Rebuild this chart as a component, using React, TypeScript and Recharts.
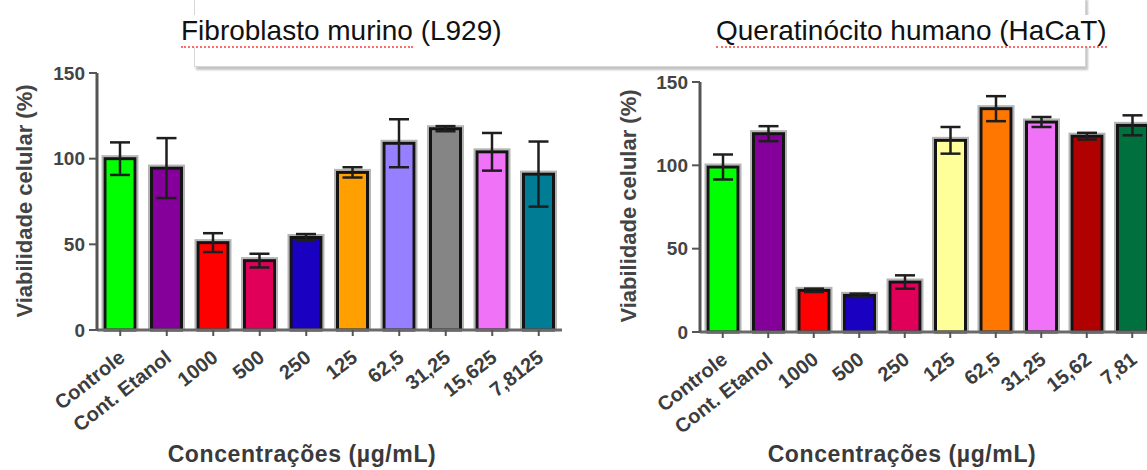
import { BarChart, Bar, XAxis, YAxis, ErrorBar } from 'recharts'

// L929 (fibroblasto murino)
const catsL929 = ['Controle', 'Cont. Etanol', '1000', '500', '250', '125', '62,5', '31,25', '15,625', '7,8125']
const meanL929 = [100, 94.5, 51, 40.5, 54, 92, 109, 117.5, 104, 91]
const errL929 = [9.5, 17.5, 5.5, 4, 2, 3, 14, 1.5, 11, 19]
const colorsL929 = ['#00ff00', '#85009a', '#ff0000', '#e0005a', '#1a00c0', '#ff9f00', '#9680ff', '#858585', '#ef72f7', '#007c94']

// HaCaT (queratinocito humano)
const catsHaCaT = ['Controle', 'Cont. Etanol', '1000', '500', '250', '125', '62,5', '31,25', '15,62', '7,81']
const meanHaCaT = [99, 119, 25, 22, 30, 115, 134, 126, 117.5, 124]
const errHaCaT = [7.5, 4.5, 1, 1, 4, 8, 7.5, 3, 2, 6]
const colorsHaCaT = ['#00ff00', '#85009a', '#ff0000', '#1a00c0', '#e0005a', '#ffff99', '#ff7700', '#ef72f7', '#b00000', '#00703f']

const yTicks = [0, 50, 100, 150]
const FONT = '"Liberation Sans", Arial, sans-serif'

const build = (cats: string[], mean: number[], err: number[], colors: string[]) =>
  cats.map((name, i) => ({ name, value: mean[i], err: err[i], color: colors[i] }))

const dataL929 = build(catsL929, meanL929, errL929, colorsL929)
const dataHaCaT = build(catsHaCaT, meanHaCaT, errHaCaT, colorsHaCaT)

// GraphPad-ish bar: blurry grey halo + black outline
const BarShape = (props: any) => {
  const { x, y, width, height, payload } = props
  if (height <= 0) return null
  return (
    <g>
      <rect x={x - 2.5} y={y - 2.5} width={width + 5} height={height + 2.5} fill="none" stroke="#b5b5b5" strokeWidth={2} />
      <rect x={x} y={y} width={width} height={height} fill={payload.color} stroke="#141414" strokeWidth={3} />
    </g>
  )
}

const XTick = (props: any) => {
  const { x, y, payload } = props
  return (
    <g transform={`translate(${x},${y})`}>
      <text
        x={6} y={22} textAnchor="end" transform="rotate(-38 6 22)"
        fontFamily={FONT} fontSize={20} fontWeight={700} fill="#3c3c3c"
      >
        {payload.value}
      </text>
    </g>
  )
}

interface PanelProps {
  data: { name: string; value: number; err: number; color: string }[]
  width: number
  top: number
  plotH: number
  left: number
  right: number
}

function Panel({ data, width, top, plotH, left, right }: PanelProps) {
  return (
    <BarChart
      width={width} height={470} data={data}
      margin={{ top, right, bottom: 0, left }}
    >
      <XAxis
        dataKey="name" interval={0} height={470 - top - plotH}
        tick={<XTick />}
        axisLine={{ stroke: '#6a6a6a', strokeWidth: 3 }}
        tickLine={{ stroke: '#555', strokeWidth: 2 }}
        tickSize={6}
      />
      <YAxis
        domain={[0, 150]} ticks={yTicks} interval={0} width={57}
        axisLine={{ stroke: '#555', strokeWidth: 3 }}
        tickLine={{ stroke: '#555', strokeWidth: 2 }}
        tickSize={8} tickMargin={4}
        tick={{ fontSize: 19, fontWeight: 700, fill: '#444', fontFamily: FONT }}
      />
      <Bar dataKey="value" barSize={30} shape={<BarShape />} isAnimationActive={false}>
        <ErrorBar dataKey="err" width={10} strokeWidth={2.5} stroke="#1e1e1e" direction="y" isAnimationActive={false} />
      </Bar>
    </BarChart>
  )
}

const yLabelStyle = (cx: number, cy: number): React.CSSProperties => ({
  position: 'absolute', left: cx - 150, top: cy - 14, width: 300, textAlign: 'center',
  transform: 'rotate(-90deg)', fontFamily: FONT, fontWeight: 700, fontSize: 22,
  color: '#444', lineHeight: '28px', whiteSpace: 'nowrap',
})

const xLabelStyle = (cx: number, cy: number): React.CSSProperties => ({
  position: 'absolute', left: cx - 200, top: cy - 14, width: 400, textAlign: 'center',
  fontFamily: FONT, fontWeight: 700, fontSize: 23, letterSpacing: 0.6,
  color: '#3a3a3a', lineHeight: '28px', whiteSpace: 'nowrap',
})

const titleStyle = (left: number): React.CSSProperties => ({
  position: 'absolute', left, top: 15, fontFamily: FONT, fontSize: 28, color: '#111',
  lineHeight: '32px', background: '#fff', whiteSpace: 'nowrap',
})

const spell: React.CSSProperties = { borderBottom: '2px dotted #ff6b6b' }

export default function App() {
  return (
    <div style={{ position: 'fixed', left: 0, top: 0, width: 1147, height: 470, overflow: 'hidden', background: '#fff' }}>
      <div style={{
        position: 'absolute', left: 194, top: -3, width: 890, height: 68,
        border: '1px solid #d6d6d6', boxShadow: '2px 3px 2px #c4c4c4', background: '#fff',
      }} />
      <div style={titleStyle(181)}>
        <span style={spell}>Fibroblasto murino</span> (L929)
      </div>
      <div style={titleStyle(716)}>
        <span style={spell}>Queratinócito humano (HaCaT)</span>
      </div>

      <div style={{ position: 'absolute', left: 0, top: 0 }}>
        <Panel data={dataL929} width={580} top={73} plotH={257} left={40} right={18} />
      </div>
      <div style={{ position: 'absolute', left: 600, top: 0 }}>
        <Panel data={dataHaCaT} width={560} top={82} plotH={250} left={43} right={5} />
      </div>

      <div style={yLabelStyle(25, 201)}>Viabilidade celular (%)</div>
      <div style={yLabelStyle(629, 206)}>Viabilidade celular (%)</div>
      <div style={xLabelStyle(302, 454)}>Concentrações (µg/mL)</div>
      <div style={xLabelStyle(902, 454)}>Concentrações (µg/mL)</div>
    </div>
  )
}
